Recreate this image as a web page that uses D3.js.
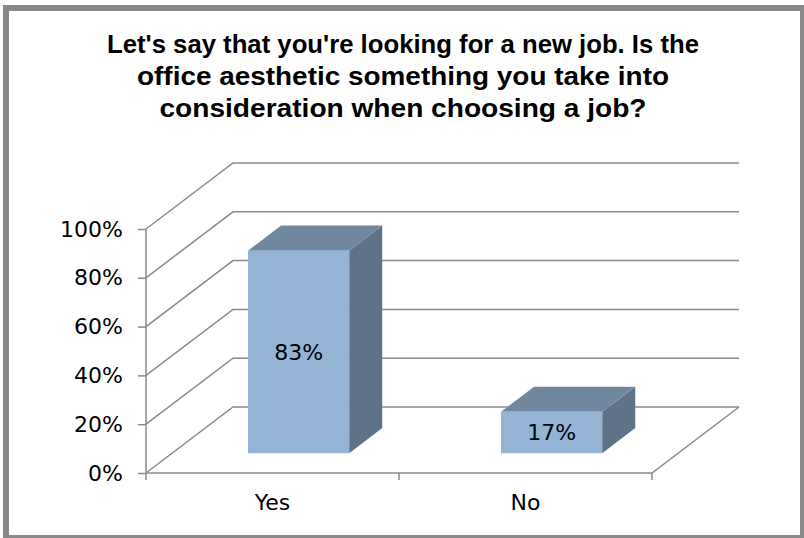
<!DOCTYPE html>
<html>
<head>
<meta charset="utf-8">
<script src="https://cdn.jsdelivr.net/npm/d3@7"></script>
<style>
  body { margin: 0; background: #fff; }
  svg { display: block; }
</style>
</head>
<body>
<div id="chart"></div>
<script>
// ----- data ----- //
var titleLines = [
    "Let's say that you're looking for a new job. Is the",
    "office aesthetic something you take into",
    "consideration when choosing a job?"
]
var categories = ["Yes", "No"]
var values = [0.83, 0.17]
var yTicks = [0, 0.2, 0.4, 0.6, 0.8, 1]

// ----- layout ----- //
var W = 804, H = 538
var depthX = 87, depthY = -66      // full depth of the 3d box
var barFront = 0.30, barBack = 0.68 // bar position inside the depth

var svg = d3.select("#chart")
    .append("svg")
    .attr("width", W)
    .attr("height", H)

// frame
svg.append("rect").attr("x", 3).attr("y", 5).attr("width", W).attr("height", H).attr("fill", "#898989")
svg.append("rect").attr("x", 9).attr("y", 11).attr("width", 791).attr("height", 524).attr("fill", "#fff")

// title
var titleWidths = [592, 532, 487]
svg.append("g").selectAll("text")
    .data(titleLines)
    .enter()
    .append("text")
    .attr("x", 403)
    .attr("y", function (d, i) { return 53 + i * 32 })
    .attr("text-anchor", "middle")
    .attr("textLength", function (d, i) { return titleWidths[i] })
    .attr("lengthAdjust", "spacingAndGlyphs")
    .style("font-family", "'Liberation Sans', Arial, sans-serif")
    .style("font-weight", "bold")
    .style("font-size", "25px")
    .style("fill", "#000")
    .text(function (d) { return d })

// scales
var x = d3.scaleBand()
    .domain(categories)
    .range([146, 652])
    .padding(0)

var y = d3.scaleLinear()
    .domain([0, 1])
    .range([473, 229])

var gridColor = "#8a8a8a"
var grid = svg.append("g")
    .attr("fill", "none")
    .attr("stroke", gridColor)
    .attr("stroke-width", 1.5)

// side wall + back wall gridlines
yTicks.forEach(function (t) {
    var x0 = x.range()[0], x1 = x.range()[1]
    grid.append("path")
        .attr("d", d3.line()([
            [x0, y(t)],
            [x0 + depthX, y(t) + depthY],
            [x1 + depthX, y(t) + depthY]
        ]))
})

// floor front + right edge
grid.append("path")
    .attr("d", d3.line()([
        [x.range()[0], y(0)],
        [x.range()[1], y(0)],
        [x.range()[1] + depthX, y(0) + depthY]
    ]))

// left axis
var yAxis = svg.append("g")
    .attr("transform", "translate(" + x.range()[0] + ",0)")
    .call(d3.axisLeft(y).tickValues(yTicks).tickFormat(d3.format(".0%")).tickSize(8).tickPadding(15))

yAxis.selectAll("path, line").attr("stroke", gridColor).attr("stroke-width", 1.5)
yAxis.select(".domain").attr("d", "M0," + y(1) + "V" + y(0))
yAxis.selectAll("text")
    .style("font-family", "'DejaVu Sans', sans-serif")
    .style("font-size", "22px")
    .style("fill", "#000")

// bottom axis: ticks on category boundaries
var bounds = categories.map(function (c) { return x(c) }).concat([x.range()[1]])
svg.append("g").selectAll("line")
    .data(bounds)
    .enter()
    .append("line")
    .attr("x1", function (d) { return d }).attr("x2", function (d) { return d })
    .attr("y1", y(0)).attr("y2", y(0) + 7)
    .attr("stroke", gridColor)
    .attr("stroke-width", 1.5)

svg.append("g").selectAll("text")
    .data(categories)
    .enter()
    .append("text")
    .attr("x", function (d) { return x(d) + x.bandwidth() / 2 })
    .attr("y", 510)
    .attr("text-anchor", "middle")
    .style("font-family", "'DejaVu Sans', sans-serif")
    .style("font-size", "22px")
    .text(function (d) { return d })

// ----- 3d bars ----- //
var bw = x.bandwidth() * 0.4
var bars = svg.append("g").selectAll("g")
    .data(categories.map(function (c, i) { return { cat: c, v: values[i] } }))
    .enter()
    .append("g")

function geom(d) {
    var fx = x(d.cat) + x.bandwidth() * 0.3 + barFront * depthX
    var bx = x(d.cat) + x.bandwidth() * 0.3 + barBack * depthX
    var fyTop = y(d.v) + barFront * depthY, fyBot = y(0) + barFront * depthY
    var byTop = y(d.v) + barBack * depthY, byBot = y(0) + barBack * depthY
    return { fx: fx, bx: bx, fyTop: fyTop, fyBot: fyBot, byTop: byTop, byBot: byBot }
}

bars.append("path") // side
    .attr("fill", "#5e7387")
    .attr("d", function (d) {
        var g = geom(d)
        return d3.line()([[g.fx + bw, g.fyTop], [g.bx + bw, g.byTop], [g.bx + bw, g.byBot], [g.fx + bw, g.fyBot]]) + "Z"
    })

bars.append("path") // top
    .attr("fill", "#6f88a0")
    .attr("d", function (d) {
        var g = geom(d)
        return d3.line()([[g.fx, g.fyTop], [g.bx, g.byTop], [g.bx + bw, g.byTop], [g.fx + bw, g.fyTop]]) + "Z"
    })

bars.append("rect") // front
    .attr("fill", "#94b4d5")
    .attr("x", function (d) { return geom(d).fx })
    .attr("y", function (d) { return geom(d).fyTop })
    .attr("width", bw)
    .attr("height", function (d) { var g = geom(d); return g.fyBot - g.fyTop })

bars.append("text")
    .attr("x", function (d) { return geom(d).fx + bw / 2 })
    .attr("y", function (d) { var g = geom(d); return (g.fyTop + g.fyBot) / 2 })
    .attr("dy", "0.36em")
    .attr("text-anchor", "middle")
    .style("font-family", "'DejaVu Sans', sans-serif")
    .style("font-size", "22px")
    .style("fill", "#000")
    .text(function (d) { return d3.format(".0%")(d.v) })
</script>
</body>
</html>
